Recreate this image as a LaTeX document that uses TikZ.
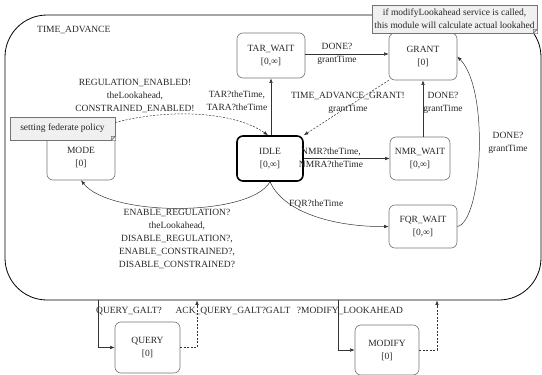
\documentclass[tikz,border=0pt]{standalone}
\usepackage{fontspec}
\setmainfont{Liberation Serif}
\usetikzlibrary{arrows.meta}
\begin{document}
\begin{tikzpicture}[x=1pt,y=-1pt,
  font=\fontsize{9.5}{13}\selectfont,
  every node/.append style={text=black!85},
  state/.style={draw=black!55, rounded corners=6pt, align=center, inner sep=0pt, line width=0.6pt},
  lbl/.style={align=center, inner sep=0pt},
  arr/.style={draw=black!80, line width=0.5pt, -{Latex[length=4.5pt,width=3.5pt]}},
  darr/.style={arr, dash pattern=on 2pt off 1.5pt},
  note/.style={fill=black!6, draw=black!55, line width=0.6pt, align=center, inner sep=0pt},
  fold/.style={draw=black!55, line width=0.6pt, fill=black!15},
]
\useasboundingbox (0,0) rectangle (542,375);

% outer super-state
\node[draw=black, line width=0.8pt, rounded corners=42pt, minimum width=536pt, minimum height=285pt, inner sep=0pt] (ta) at (273,157.5) {};
\node[anchor=west, inner sep=0pt] (tal) at (37,30) {TIME\_ADVANCE};

% states
\node[state, minimum width=68pt, minimum height=45pt] (tar) at (271,55.5) {TAR\_WAIT\\{[0,∞]}};
\node[state, minimum width=68pt, minimum height=47pt] (grant) at (423,56.5) {GRANT\\{[0]}};
\node[state, draw=black, line width=1.6pt, minimum width=66pt, minimum height=45pt] (idle) at (270,158.5) {IDLE\\{[0,∞]}};
\node[state, minimum width=60pt, minimum height=43pt] (nmr) at (420,158.5) {NMR\_WAIT\\{[0,∞]}};
\node[state, minimum width=68pt, minimum height=43pt] (fqr) at (423,226.5) {FQR\_WAIT\\{[0,∞]}};
\node[state, minimum width=68pt, minimum height=46pt] (mode) at (81,157) {MODE\\{[0]}};
\node[state, minimum width=65pt, minimum height=51pt] (query) at (147.5,347.5) {QUERY\\{[0]}};
\node[state, minimum width=64pt, minimum height=50pt] (modify) at (387,350) {MODIFY\\{[0]}};

% notes
\node[note, minimum width=105pt, minimum height=23pt] (pol) at (62.5,128.5) {setting federate policy};
\fill[white] (pol.south east) -- ([yshift=4pt]pol.south east) -- ([xshift=-4pt]pol.south east) -- cycle;
\draw[fold] ([yshift=4pt]pol.south east) -- ([xshift=-4pt]pol.south east) -- ([xshift=-4pt,yshift=4pt]pol.south east) -- cycle;

\node[note, minimum width=165pt, minimum height=28pt] (mnote) at (454.5,19) {if modifyLookahead service is called,\\this module will calculate actual lookahed};
\fill[white] (mnote.south east) -- ([yshift=4pt]mnote.south east) -- ([xshift=-4pt]mnote.south east) -- cycle;
\draw[fold] ([yshift=4pt]mnote.south east) -- ([xshift=-4pt]mnote.south east) -- ([xshift=-4pt,yshift=4pt]mnote.south east) -- cycle;

% transitions
\draw[arr] (tar.south |- idle.north) -- (tar.south);
\node[lbl] (l1) at (237,101) {TAR?theTime,\\TARA?theTime};

\draw[arr] ([yshift=1.5pt]tar.east) -- ([yshift=1.5pt]tar.east -| grant.west);
\node[lbl] (l2) at (337,54) {DONE?\\grantTime};

\draw[darr] (grant.south west) -- (idle.north east);
\node[lbl] (l3) at (348,103) {TIME\_ADVANCE\_GRANT!\\grantTime};

\draw[arr] (grant.south |- nmr.north) -- (grant.south);
\node[lbl] (l4) at (443,103) {DONE?\\grantTime};

\draw[arr] (idle.east) -- (nmr.west);
\node[lbl] (l5) at (331,158) {NMR?theTime,\\NMRA?theTime};

\draw[arr] (idle.south) .. controls (285,215) and (340,227) .. (fqr.west);
\node[lbl, anchor=west] (l6) at (289,204) {FQR?theTime};

\draw[arr] (fqr.east) .. controls (482,222) and (490,90) .. (grant.east);
\node[lbl] (l7) at (508,143) {DONE?\\grantTime};

\draw[arr] (idle.south) .. controls (250,217) and (110,217) .. (mode.south);
\node[lbl] (l8) at (177,238.5) {ENABLE\_REGULATION?\\theLookahead,\\DISABLE\_REGULATION?,\\ENABLE\_CONSTRAINED?,\\DISABLE\_CONSTRAINED?};

\draw[darr] ([yshift=6pt]pol.east) .. controls (170,108) and (235,112) .. ([xshift=-2pt]idle.north);
\node[lbl] (l9) at (135,95.5) {REGULATION\_ENABLED!\\theLookahead,\\CONSTRAINED\_ENABLED!};

% interface connectors
\coordinate (qx) at (98,0);
\coordinate (qy) at (197,0);
\coordinate (mx) at (338,0);
\coordinate (my) at (437,0);
\draw[arr] (qx |- ta.south) -- (qx |- query.west) -- (query.west);
\draw[darr] (query.east) -- (qy |- query.east) -- (qy |- ta.south);
\draw[arr] (mx |- ta.south) -- (mx |- modify.west) -- (modify.west);
\draw[darr] (modify.east) -- (my |- modify.east) -- (my |- ta.south);

\node[lbl] (l10) at (129,311) {QUERY\_GALT?};
\node[lbl] (l11) at (233,311) {ACK\_QUERY\_GALT?GALT};
\node[lbl] (l12) at (350,311) {?MODIFY\_LOOKAHEAD};
\end{tikzpicture}
\end{document}
